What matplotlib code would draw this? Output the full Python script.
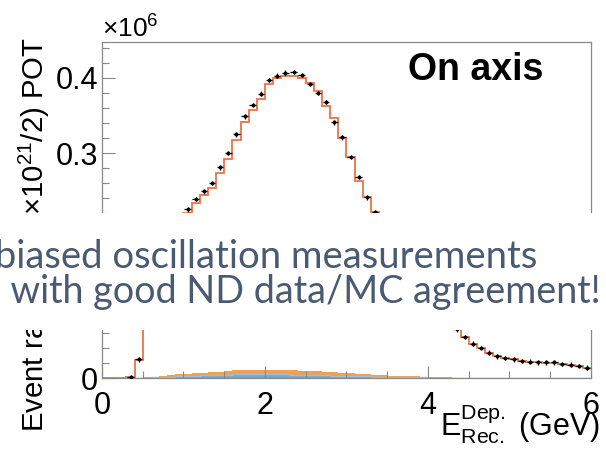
import numpy as np
import matplotlib
matplotlib.use("Agg")
import matplotlib.pyplot as plt
from matplotlib.patches import Rectangle
from matplotlib.ticker import MultipleLocator, FuncFormatter

plt.rcParams['font.family'] = ['Liberation Sans', 'DejaVu Sans']
plt.rcParams['mathtext.fontset'] = 'custom'
plt.rcParams['mathtext.rm'] = 'Liberation Sans'
plt.rcParams['mathtext.it'] = 'Liberation Sans:italic'

# 0.1 GeV bins from 0 to 6 GeV, event rates in units of 10^6
edges = np.linspace(0, 6, 61)

data = [0, 0, 0, 0.001, 0.025, 0.085, 0.115, 0.145, 0.172, 0.200,
        0.225, 0.239, 0.249, 0.260, 0.281, 0.300, 0.325, 0.349, 0.364, 0.379,
        0.397, 0.403, 0.407, 0.408, 0.404, 0.392, 0.380, 0.368, 0.341, 0.321,
        0.295, 0.268, 0.241, 0.221, 0.196, 0.172, 0.150, 0.130, 0.112, 0.097,
        0.086, 0.077, 0.070, 0.065, 0.055, 0.046, 0.040, 0.034, 0.029, 0.027,
        0.025, 0.023, 0.022, 0.021, 0.021, 0.021, 0.019, 0.018, 0.016, 0.014]

mc = [0, 0, 0, 0.001, 0.024, 0.085, 0.113, 0.142, 0.170, 0.197,
      0.220, 0.234, 0.244, 0.253, 0.274, 0.292, 0.318, 0.341, 0.357, 0.372,
      0.392, 0.400, 0.402, 0.403, 0.400, 0.393, 0.383, 0.362, 0.347, 0.320,
      0.295, 0.263, 0.241, 0.221, 0.195, 0.171, 0.150, 0.130, 0.112, 0.097,
      0.086, 0.077, 0.070, 0.065, 0.055, 0.046, 0.040, 0.034, 0.030, 0.027,
      0.025, 0.023, 0.022, 0.021, 0.020, 0.020, 0.019, 0.018, 0.016, 0.014]

bkg_blue = [0, 0, 0, 0, 0, 0.0005, 0.0010, 0.0015, 0.0020, 0.0025,
            0.0030, 0.0032, 0.0035, 0.0038, 0.0040, 0.0045, 0.0048, 0.0050, 0.0050, 0.0050,
            0.0050, 0.0048, 0.0047, 0.0045, 0.0043, 0.0040, 0.0037, 0.0035, 0.0032, 0.0030,
            0.0027, 0.0025, 0.0022, 0.0020, 0.0018, 0.0016, 0.0014, 0.0012, 0.0010, 0.0009,
            0.0006, 0.0005, 0.0004, 0.0004, 0.0003, 0.0003, 0.0003, 0.0002, 0.0002, 0.0002,
            0.0002, 0.0002, 0.0002, 0.0001, 0.0001, 0.0001, 0.0001, 0.0001, 0.0001, 0.0001]

bkg_orange = [0, 0, 0, 0, 0, 0.0003, 0.0008, 0.0012, 0.0018, 0.0022,
              0.0028, 0.0032, 0.0036, 0.0040, 0.0045, 0.0052, 0.0058, 0.0062, 0.0062, 0.0060,
              0.0062, 0.0063, 0.0060, 0.0058, 0.0055, 0.0052, 0.0050, 0.0046, 0.0043, 0.0040,
              0.0036, 0.0030, 0.0026, 0.0022, 0.0020, 0.0017, 0.0015, 0.0013, 0.0012, 0.0010,
              0.0004, 0.0003, 0.0003, 0.0002, 0.0002, 0.0002, 0.0002, 0.0001, 0.0001, 0.0001,
              0.0001, 0.0001, 0.0001, 0.0001, 0.0001, 0.0001, 0.0001, 0.0001, 0.0001, 0.0001]

data_err = 0.003

centers = 0.5 * (edges[1:] + edges[:-1])
blue = np.array(bkg_blue)
stack = blue + np.array(bkg_orange)

fig = plt.figure(figsize=(6.06, 4.55), dpi=100)
ax = fig.add_axes([0.1683, 0.1692, 0.8069, 0.7385])

ax.stairs(stack, edges, baseline=blue, fill=True, color='#f0a04e', lw=0, zorder=1)
ax.stairs(blue, edges, fill=True, color='#74a6d6', lw=0, zorder=1)
ax.stairs(blue, edges, color='#9cc0e4', lw=1.0, baseline=None, zorder=1.5)
ax.stairs(mc, edges, color='#ea7346', lw=1.3, baseline=None, zorder=2)
ax.errorbar(centers[3:], data[3:], xerr=0.04, yerr=data_err, fmt='o', ms=1.8,
            color='black', elinewidth=0.9, capsize=0, zorder=3)

ax.set_xlim(0, 6)
ax.set_ylim(0, 0.448)
ax.xaxis.set_major_locator(MultipleLocator(2))
ax.xaxis.set_minor_locator(MultipleLocator(0.5))
ax.yaxis.set_major_locator(MultipleLocator(0.1))
ax.yaxis.set_minor_locator(MultipleLocator(0.02))
ax.yaxis.set_major_formatter(FuncFormatter(lambda v, p: '0' if abs(v) < 1e-9 else f'{v:.1f}'))
ax.xaxis.set_major_formatter(FuncFormatter(lambda v, p: f'{v:.0f}'))

ax.tick_params(which='both', direction='in', color='#888888', width=0.8,
               labelsize=22, top=False, right=False)
ax.tick_params(which='major', length=9)
ax.tick_params(which='minor', length=5)
ax.tick_params(axis='x', which='major', pad=9)
ax.tick_params(axis='y', which='major', pad=3)
for s in ax.spines.values():
    s.set_color('#888888')
    s.set_linewidth(0.9)

ax.text(0.626, 0.887, 'On axis', transform=ax.transAxes, fontsize=27,
        fontweight='bold', ha='left', va='baseline')

fig.text(102 / 606, (455 - 38) / 455, '×10$^{6}$', fontsize=19, ha='left', va='baseline')
fig.text(17 / 606, (455 - 432) / 455, 'Event rate / (0.1 ×10$^{21}$/2) POT',
         rotation=90, fontsize=21.2, ha='left', va='bottom')
fig.text(600 / 606, (455 - 435) / 455, r'E$^{\mathrm{Dep.}}_{\mathrm{Rec.}}$ (GeV)',
         fontsize=22, ha='right', va='baseline')

# slide text band over the middle of the plot
band = Rectangle((0, (455 - 330) / 455), 1, (330 - 213) / 455, transform=fig.transFigure,
                 facecolor='white', edgecolor='none', zorder=10)
fig.patches.append(band)
fig.text(537 / 606, (455 - 268) / 455, 'unbiased oscillation measurements',
         fontsize=27.5, family='Lato', color='#4a5a72',
         ha='right', va='baseline', zorder=11)
fig.text(601 / 606, (455 - 303) / 455, 'both with good ND data/MC agreement!',
         fontsize=27.2, family='Lato', color='#4a5a72',
         ha='right', va='baseline', zorder=11)

fig.savefig('out.png', dpi=100)
